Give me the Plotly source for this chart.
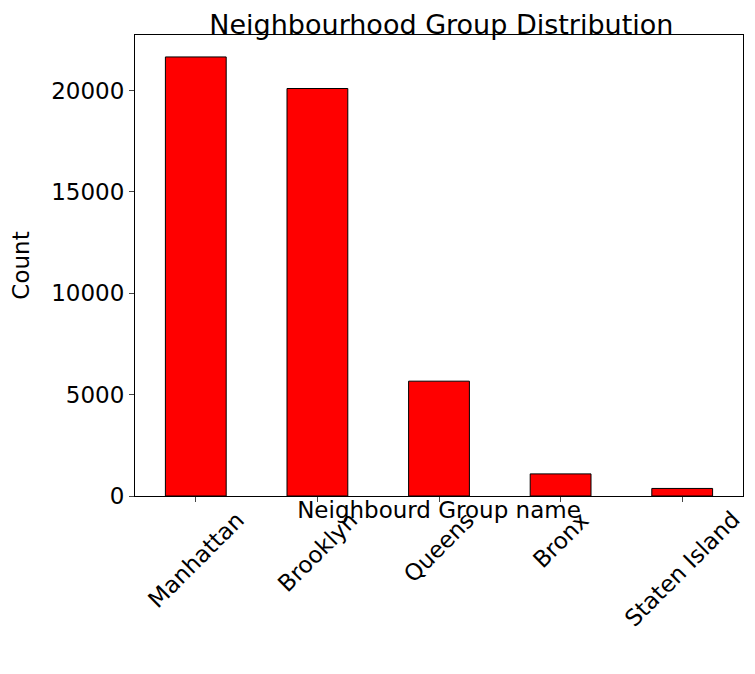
import plotly.graph_objects as go

groups = ["Manhattan", "Brooklyn", "Queens", "Bronx", "Staten Island"]
counts = [21661, 20104, 5666, 1091, 373]

font = "DejaVu Sans, sans-serif"

fig = go.Figure()
fig.add_trace(
    go.Bar(
        x=groups,
        y=counts,
        width=0.5,
        marker=dict(color="red", line=dict(color="black", width=1)),
    )
)

# rotated category labels, centred under each tick like matplotlib's rotation=45
for g in groups:
    fig.add_annotation(
        x=g,
        y=0,
        yref="paper",
        text=g,
        textangle=-45,
        showarrow=False,
        xanchor="center",
        yanchor="top",
        yshift=-8,
        font=dict(size=23, color="black", family=font),
    )

fig.update_layout(
    width=755,
    height=674,
    title=dict(
        text="Neighbourhood Group Distribution",
        font=dict(size=27, color="black", family=font),
        x=0.574,
        xanchor="center",
        y=0.975,
        yanchor="middle",
    ),
    xaxis=dict(
        title=dict(text="Neighbourd Group name", font=dict(size=23, color="black", family=font),
                   standoff=0),
        showticklabels=False,
        ticks="outside",
        ticklen=5,
        showline=True,
        linecolor="black",
        mirror=True,
        showgrid=False,
        range=[-0.5, 4.5],
    ),
    yaxis=dict(
        title=dict(text="Count", font=dict(size=23, color="black", family=font)),
        tickfont=dict(size=23, color="black", family=font),
        tickformat="d",
        ticks="outside",
        ticklen=5,
        showline=True,
        linecolor="black",
        mirror=True,
        showgrid=False,
        zeroline=False,
        range=[0, 22744],
        tickvals=[0, 5000, 10000, 15000, 20000],
    ),
    plot_bgcolor="white",
    paper_bgcolor="white",
    showlegend=False,
    margin=dict(l=114, r=20, t=27, b=186),
)

fig.write_html("out.html")
